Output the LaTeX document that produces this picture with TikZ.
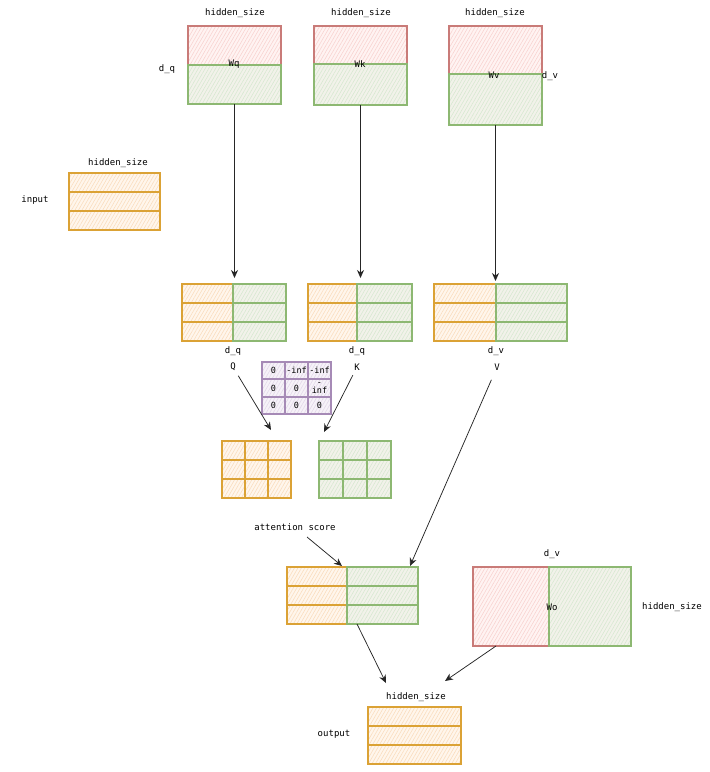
\documentclass[tikz,border=0pt]{standalone}
\usepackage{fontspec}
\setmainfont{DejaVu Sans Mono}
\usetikzlibrary{arrows.meta,patterns.meta}
\definecolor{ostroke}{HTML}{DBA235}
\definecolor{ofill}{HTML}{FFF6EC}
\definecolor{ohatch}{HTML}{FADCBC}
\definecolor{gstroke}{HTML}{8DB872}
\definecolor{gfill}{HTML}{F2F2EA}
\definecolor{ghatch}{HTML}{D6E8D0}
\definecolor{rstroke}{HTML}{C97B78}
\definecolor{rfill}{HTML}{FFF3F2}
\definecolor{rhatch}{HTML}{F8D2CF}
\definecolor{pstroke}{HTML}{A68AB6}
\definecolor{pfill}{HTML}{F6F2F8}
\definecolor{phatch}{HTML}{E2D6E9}
\definecolor{arrowc}{HTML}{262626}
\tikzset{
  mfl/.style n args={2}{inner sep=0pt, outer sep=0pt,
    preaction={fill=#1},
    preaction={pattern={Lines[angle=60,distance=3pt,line width=0.55pt]}, pattern color=#2}},
  mdr/.style={draw=#1, line width=1.3pt},
  ofl/.style={mfl={ofill}{ohatch}},
  gfl/.style={mfl={gfill}{ghatch}},
  odr/.style={mdr=ostroke},
  gdr/.style={mdr=gstroke},
  rbox/.style={mfl={rfill}{rhatch}, mdr=rstroke},
  gbox/.style={mfl={gfill}{ghatch}, mdr=gstroke},
  pfl/.style={mfl={pfill}{phatch}, align=center, font=\fontsize{8.5}{8}\selectfont},
  pdr/.style={mdr=pstroke},
  ghost/.style={inner sep=0pt, outer sep=0pt},
  lbl/.style={inner sep=2pt, text=black},
  arr/.style={draw=arrowc, line width=0.75pt, -{Stealth[length=8pt,width=7pt]}},
}
% name, x, y, width, height
\newcommand\orows[5]{%
  \pgfmathsetmacro\rh{#5/3}%
  \node[ghost, anchor=north west, minimum width=#4pt, minimum height=#5pt] (#1) at (#2,#3) {};
  \foreach \i in {0,1,2}{%
    \node[ofl, anchor=north west, minimum width=#4pt, minimum height=\rh pt] (#1-o\i) at (#2,{#3+\i*\rh}) {};
  }%
  \foreach \i in {0,1,2}{\draw[odr] (#1-o\i.north west) rectangle (#1-o\i.south east);}%
}
% name, splitx, y, width, height
\newcommand\grows[5]{%
  \pgfmathsetmacro\rh{#5/3}%
  \foreach \i in {0,1,2}{%
    \node[gfl, anchor=north west, minimum width=#4pt, minimum height=\rh pt] (#1-g\i) at (#2,{#3+\i*\rh}) {};
  }%
  \foreach \i in {0,1,2}{\draw[gdr] (#1-g\i.north west) rectangle (#1-g\i.south east);}%
}
% name, prefix (o/g), x, y, cellw, cellh
\newcommand\grid[6]{%
  \pgfmathsetmacro\gw{3*#5}%
  \pgfmathsetmacro\gh{3*#6}%
  \node[ghost, anchor=north west, minimum width=\gw pt, minimum height=\gh pt] (#1) at (#3,#4) {};
  \foreach \i in {0,1,2}{\foreach \j in {0,1,2}{%
    \node[#2fl, anchor=north west, minimum width=#5pt, minimum height=#6pt] (#1-\i\j) at ({#3+\j*#5},{#4+\i*#6}) {};
  }}%
  \foreach \i in {0,1,2}{\foreach \j in {0,1,2}{%
    \draw[#2dr] (#1-\i\j.north west) rectangle (#1-\i\j.south east);
  }}%
}
\begin{document}
\begin{tikzpicture}[x=1pt,y=-1pt,font=\fontsize{9}{10}\selectfont]
\useasboundingbox (0,0) rectangle (710,772);

% ---- weight matrices
\node[rbox, anchor=north west, minimum width=93pt, minimum height=78pt] (wq) at (188,26) {};
\node[gbox, anchor=north west, minimum width=93pt, minimum height=39pt] (wq-g) at (188,65) {};
\node[rbox, anchor=north west, minimum width=93pt, minimum height=79pt] (wk) at (314,26) {};
\node[gbox, anchor=north west, minimum width=93pt, minimum height=41pt] (wk-g) at (314,64) {};
\node[rbox, anchor=north west, minimum width=93pt, minimum height=99pt] (wv) at (449,26) {};
\node[gbox, anchor=north west, minimum width=93pt, minimum height=51pt] (wv-g) at (449,74) {};

\node[lbl] (hq) at (235,13) {hidden\_size};
\node[lbl] (hk) at (361,13) {hidden\_size};
\node[lbl] (hv) at (495,13) {hidden\_size};
\node[lbl] (dqw) at (167,69) {d\_q};
\node[lbl] (wql) at (234,64) {Wq};
\node[lbl] (wkl) at (360,64) {Wk};
\node[lbl] (wvl) at (494,75) {Wv};
\node[lbl] (dvw) at (550,76) {d\_v};

% ---- input
\orows{inp}{69}{173}{91}{57}
\node[lbl] (hin) at (118,163) {hidden\_size};
\node[lbl] (inl) at (35,200) {input};

% ---- Q K V
\orows{q}{182}{284}{104}{57}
\grows{q}{233}{284}{53}{57}
\orows{k}{308}{284}{104}{57}
\grows{k}{357}{284}{55}{57}
\orows{v}{434}{284}{133}{57}
\grows{v}{496}{284}{71}{57}
\node[lbl] (dq1) at (233,351) {d\_q};
\node[lbl] (ql) at (233,367) {Q};
\node[lbl] (dq2) at (357,351) {d\_q};
\node[lbl] (kl) at (357,367) {K};
\node[lbl] (dv1) at (496,351) {d\_v};
\node[lbl] (vl) at (497,367) {V};

% ---- mask
\node[pfl, anchor=north west, minimum width=23pt, minimum height=17pt] (m00) at (262,362) {0};
\node[pfl, anchor=north west, minimum width=23pt, minimum height=17pt] (m01) at (285,362) {-inf};
\node[pfl, anchor=north west, minimum width=23pt, minimum height=17pt] (m02) at (308,362) {-inf};
\node[pfl, anchor=north west, minimum width=23pt, minimum height=18pt] (m10) at (262,379) {0};
\node[pfl, anchor=north west, minimum width=23pt, minimum height=18pt] (m11) at (285,379) {0};
\node[pfl, anchor=north west, minimum width=23pt, minimum height=18pt] (m12) at (308,379) {-\\inf};
\node[pfl, anchor=north west, minimum width=23pt, minimum height=17pt] (m20) at (262,397) {0};
\node[pfl, anchor=north west, minimum width=23pt, minimum height=17pt] (m21) at (285,397) {0};
\node[pfl, anchor=north west, minimum width=23pt, minimum height=17pt] (m22) at (308,397) {0};
\foreach \c in {m00,m01,m02,m10,m11,m12,m20,m21,m22}{\draw[pdr] (\c.north west) rectangle (\c.south east);}

% ---- 3x3 grids
\grid{og}{o}{222}{441}{23}{19}
\grid{gg}{g}{319}{441}{24}{19}

% ---- attention result
\orows{att}{287}{567}{131}{57}
\grows{att}{347}{567}{71}{57}
\node[lbl] (asl) at (295,527) {attention score};

% ---- Wo
\node[rbox, anchor=north west, minimum width=158pt, minimum height=79pt] (wo) at (473,567) {};
\node[gbox, anchor=north west, minimum width=82pt, minimum height=79pt] (wo-g) at (549,567) {};
\node[lbl] (wol) at (552,607) {Wo};
\node[lbl] (dvo) at (552,554) {d\_v};
\node[lbl] (hwo) at (672,607) {hidden\_size};

% ---- output
\orows{out}{368}{707}{93}{57}
\node[lbl] (hout) at (416,697) {hidden\_size};
\node[lbl] (outl) at (334,734) {output};

% ---- connectors
\coordinate (qend) at (271,430);
\coordinate (kend) at (324,432);
\coordinate (vend) at (410,566);
\coordinate (astart) at (307,537);
\coordinate (aend) at (342,566);
\coordinate (oend1) at (386,683);
\coordinate (oend2) at (445,681);

\draw[arr, shorten >=6pt] (wq.south) -- (wq.south |- q.north);
\draw[arr, shorten >=6pt] (wk.south) -- (wk.south |- k.north);
\draw[arr, shorten >=3pt] (wv.south) -- (wv.south |- v.north);
\draw[arr, shorten <=3pt] (ql) -- (qend);
\draw[arr, shorten <=3pt] (kl) -- (kend);
\draw[arr, shorten <=8pt] (vl) -- (vend);
\draw[arr] (astart) -- (aend);
\draw[arr] ([xshift=4.5pt]att.south) -- (oend1);
\draw[arr] ([xshift=-56pt]wo.south) -- (oend2);
\end{tikzpicture}
\end{document}
